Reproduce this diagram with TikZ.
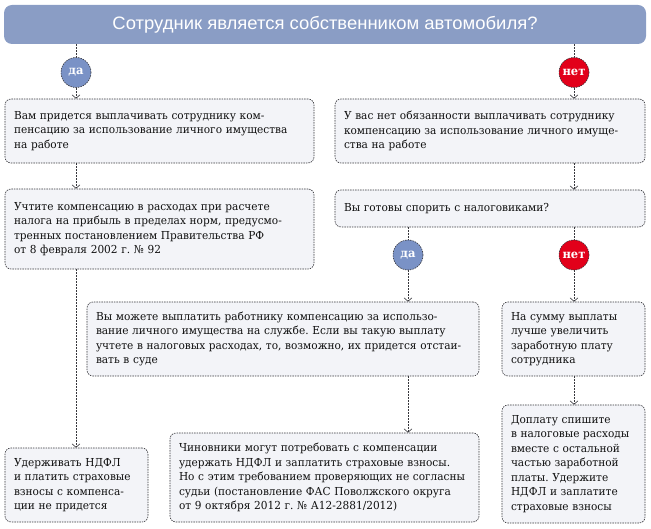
\documentclass[tikz,border=0pt]{standalone}
\usepackage{graphicx}
\usepackage{fontspec}
\setmainfont[FakeStretch=0.96]{DejaVu Serif}
\newfontfamily\titlefont{Liberation Sans}
\usetikzlibrary{arrows.meta}
\definecolor{titlebg}{RGB}{138,157,197}
\definecolor{dablue}{RGB}{122,146,198}
\definecolor{netred}{RGB}{226,0,26}
\definecolor{boxbg}{RGB}{243,244,248}
\definecolor{lineclr}{RGB}{55,55,60}
\definecolor{txt}{RGB}{15,15,15}
\frenchspacing
\begin{document}
\begin{tikzpicture}[x=1pt,y=-1pt,
  bx/.style={draw=lineclr, line width=0.6pt, dash pattern=on 1.5pt off 1pt, rounded corners=6pt, fill=boxbg, align=left, inner xsep=9pt, inner ysep=0pt, font=\fontsize{11}{14.5}\selectfont, text=txt},
  circ/.style={circle, draw=lineclr, line width=0.6pt, dash pattern=on 1.5pt off 1pt, minimum size=30pt, inner sep=0pt, text=white, font=\bfseries\fontsize{12}{12}\selectfont},
  yes/.style={circ, fill=dablue},
  no/.style={circ, fill=netred},
  conn/.style={draw=lineclr, line width=0.6pt, dash pattern=on 2pt off 1pt},
  arr/.style={conn, -{Straight Barb[length=3.5pt,width=8pt]}}]
\useasboundingbox (0,0) rectangle (651,529);

\node[fill=titlebg, rounded corners=8pt, minimum width=642pt, minimum height=39pt, inner sep=0pt, text=white] (T) at (325,24.5)
  {\titlefont\fontsize{18}{18}\selectfont\resizebox{425pt}{\height}{Сотрудник является собственником автомобиля?}};

\node[yes] (da) at (76,72.5) {да};
\node[no] (net) at (574,72.5) {нет};

\node[bx, minimum width=309pt, text width=291pt, minimum height=64pt] (A) at (159.5,131)
  {Вам придется выплачивать сотруднику ком-\\пенсацию за использование личного имущества\\на работе};
\node[bx, minimum width=310pt, text width=292pt, minimum height=64pt] (B) at (490,131)
  {У вас нет обязанности выплачивать сотруднику\\компенсацию за использование личного имуще-\\ства на работе};
\node[bx, minimum width=309pt, text width=291pt, minimum height=80pt] (C) at (159.5,229)
  {Учтите компенсацию в расходах при расчете\\налога на прибыль в пределах норм, предусмо-\\тренных постановлением Правительства РФ\\от 8 февраля 2002 г. № 92};
\node[bx, minimum width=310pt, text width=292pt, minimum height=37pt] (D) at (490,208.5)
  {Вы готовы спорить с налоговиками?};

\node[yes] (da2) at (408,255) {да};
\node[no] (net2) at (574,255) {нет};

\node[bx, minimum width=392pt, text width=374pt, minimum height=74pt] (E) at (283,339)
  {Вы можете выплатить работнику компенсацию за использо-\\вание личного имущества на службе. Если вы такую выплату\\учтете в налоговых расходах, то, возможно, их придется отстаи-\\вать в суде};
\node[bx, minimum width=143pt, text width=125pt, minimum height=74pt] (F) at (573.5,339)
  {На сумму выплаты\\лучше увеличить\\заработную плату\\сотрудника};
\node[bx, minimum width=143pt, text width=125pt, minimum height=74pt] (G) at (76.5,485)
  {Удерживать НДФЛ\\и платить страховые\\взносы с компенса-\\ции не придется};
\node[bx, minimum width=309pt, text width=291pt, minimum height=89pt] (H) at (324.5,477.5)
  {Чиновники могут потребовать с компенсации\\удержать НДФЛ и заплатить страховые взносы.\\Но с этим требованием проверяющих не согласны\\судьи (постановление ФАС Поволжского округа\\от 9 октября 2012 г. № А12-2881/2012)};
\node[bx, minimum width=143pt, text width=125pt, minimum height=118pt] (I) at (573.5,464)
  {Доплату спишите\\в налоговые расходы\\вместе с остальной\\частью заработной\\платы. Удержите\\НДФЛ и заплатите\\страховые взносы};

\draw[conn] (T.south -| da) -- (da.north);
\draw[arr] (da.south) -- (A.north -| da);
\draw[conn] (T.south -| net) -- (net.north);
\draw[arr] (net.south) -- (B.north -| net);
\draw[arr] (A.south -| da) -- (C.north -| da);
\draw[arr] (C.south -| da) -- (G.north -| da);
\draw[arr] (B.south -| net) -- (D.north -| net);
\draw[conn] (D.south -| da2) -- (da2.north);
\draw[arr] (da2.south) -- (E.north -| da2);
\draw[conn] (D.south -| net2) -- (net2.north);
\draw[arr] (net2.south) -- (F.north -| net2);
\draw[arr] (E.south -| da2) -- (H.north -| da2);
\draw[arr] (F.south -| net2) -- (I.north -| net2);
\end{tikzpicture}
\end{document}
